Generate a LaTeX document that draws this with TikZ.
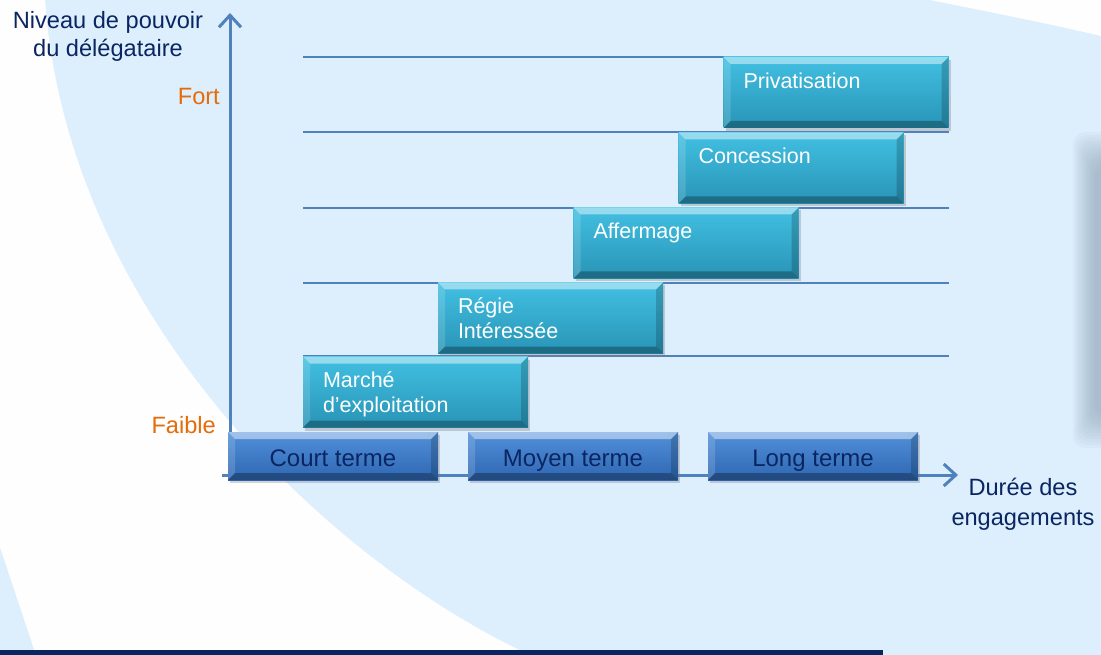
\documentclass[tikz,border=0pt]{standalone}
\usepackage{fontspec}
\setmainfont{Liberation Sans}
\usetikzlibrary{arrows.meta,shadows}
\definecolor{fond}{RGB}{221,238,253}
\definecolor{gris}{RGB}{120,140,160}
\definecolor{axe}{RGB}{79,129,189}
\definecolor{turqhaut}{RGB}{66,192,226}
\definecolor{turqbas}{RGB}{40,148,182}
\definecolor{bleuhaut}{RGB}{82,144,218}
\definecolor{bleubas}{RGB}{46,102,178}
\definecolor{marine}{RGB}{10,38,98}
\definecolor{orangeniv}{RGB}{228,108,10}

\begin{document}
\begin{tikzpicture}[x=1pt,y=-1pt,
  bevel/.style={path picture={
    \path (path picture bounding box.north west) coordinate (bnw)
          (path picture bounding box.north east) coordinate (bne)
          (path picture bounding box.south west) coordinate (bsw)
          (path picture bounding box.south east) coordinate (bse);
    \fill[white,opacity=.45] (bnw) -- (bne) -- ([shift={(-7pt,-7pt)}]bne) -- ([shift={(7pt,-7pt)}]bnw) -- cycle;
    \fill[white,opacity=.15] (bnw) -- (bsw) -- ([shift={(7pt,7pt)}]bsw) -- ([shift={(7pt,-7pt)}]bnw) -- cycle;
    \fill[black,opacity=.18] (bne) -- (bse) -- ([shift={(-7pt,7pt)}]bse) -- ([shift={(-7pt,-7pt)}]bne) -- cycle;
    \fill[black,opacity=.28] (bsw) -- (bse) -- ([shift={(-7pt,7pt)}]bse) -- ([shift={(7pt,7pt)}]bsw) -- cycle;
  }},
  phase/.style={rectangle,minimum width=225pt,minimum height=71pt,text width=185pt,
    inner xsep=20pt,inner ysep=0pt,align=left,top color=turqhaut,bottom color=turqbas,
    text=white,font=\fontsize{21.5}{25}\selectfont,
    execute at begin node={\rule{0pt}{24pt}},execute at end node={\strut},
    drop shadow={shadow xshift=2pt,shadow yshift=-3pt,opacity=.35},bevel},
  terme/.style={rectangle,minimum width=210pt,minimum height=48pt,inner sep=0pt,
    text height=23pt,text depth=2pt,
    top color=bleuhaut,bottom color=bleubas,text=marine,font=\fontsize{24}{28}\selectfont,
    drop shadow={shadow xshift=2pt,shadow yshift=-3pt,opacity=.35},bevel},
  grille/.style={draw=axe,line width=2pt},
  fleche/.style={draw=axe,line width=3pt,-{Straight Barb[length=12pt,width=22pt]}},
  lbl/.style={text=marine,font=\fontsize{23.6}{28}\selectfont,inner sep=0pt}]

\useasboundingbox (0,0) rectangle (1101,655);
\clip (0,0) rectangle (1101,655);
\fill[fond] (0,0) rectangle (1101,655);
\fill[white!99!gray] (0,0) -- (45,0) .. controls (68,320) and (335,565) .. (530,655) -- (36,655) -- (0,547) -- cycle;
\fill[white!99!gray] (930,0) .. controls (1000,14) and (1050,24) .. (1101,36) -- (1101,0) -- cycle;
\foreach \k in {0,...,11}
  \fill[gris,opacity=.05,rounded corners=12pt] (1073+2*\k,132+3*\k) rectangle (1130,448-3*\k);
\fill[marine] (0,650) rectangle (883,655);

\foreach \y in {57,132,208,283,356}
  \draw[grille] (303,\y) -- (949,\y);

\coordinate (origine) at (230,476);
\coordinate (haut) at (230,13);
\coordinate (gauche) at (222,475);
\coordinate (droite) at (958,475);
\draw[fleche] (origine) -- (haut);
\draw[fleche] (gauche) -- (droite);

\node[phase] (pv) at (836,92.5) {Privatisation\\};
\node[phase] (cn) at (791,168) {Concession\\};
\node[phase] (af) at (686,243) {Affermage\\};
\node[phase] (ri) at (550.5,318) {Régie\\Intéressée};
\node[phase] (me) at (415.5,392) {Marché\\d’exploitation};

\node[terme] (ct) at (333,456) {Court terme};
\node[terme] (mt) at (573,456) {Moyen terme};
\node[terme] (lt) at (813,456) {Long terme};

\node[lbl,align=center] (niv) at (108,36) {Niveau de pouvoir\\du délégataire};
\node[lbl,text=orangeniv,anchor=east] (fort) at (220,96) {Fort};
\node[lbl,text=orangeniv,anchor=east] (faible) at (216,425) {Faible};
\node[lbl,align=center,font=\fontsize{23.6}{30}\selectfont] (duree) at (1023,504) {Durée des\\engagements};
\end{tikzpicture}
\end{document}
